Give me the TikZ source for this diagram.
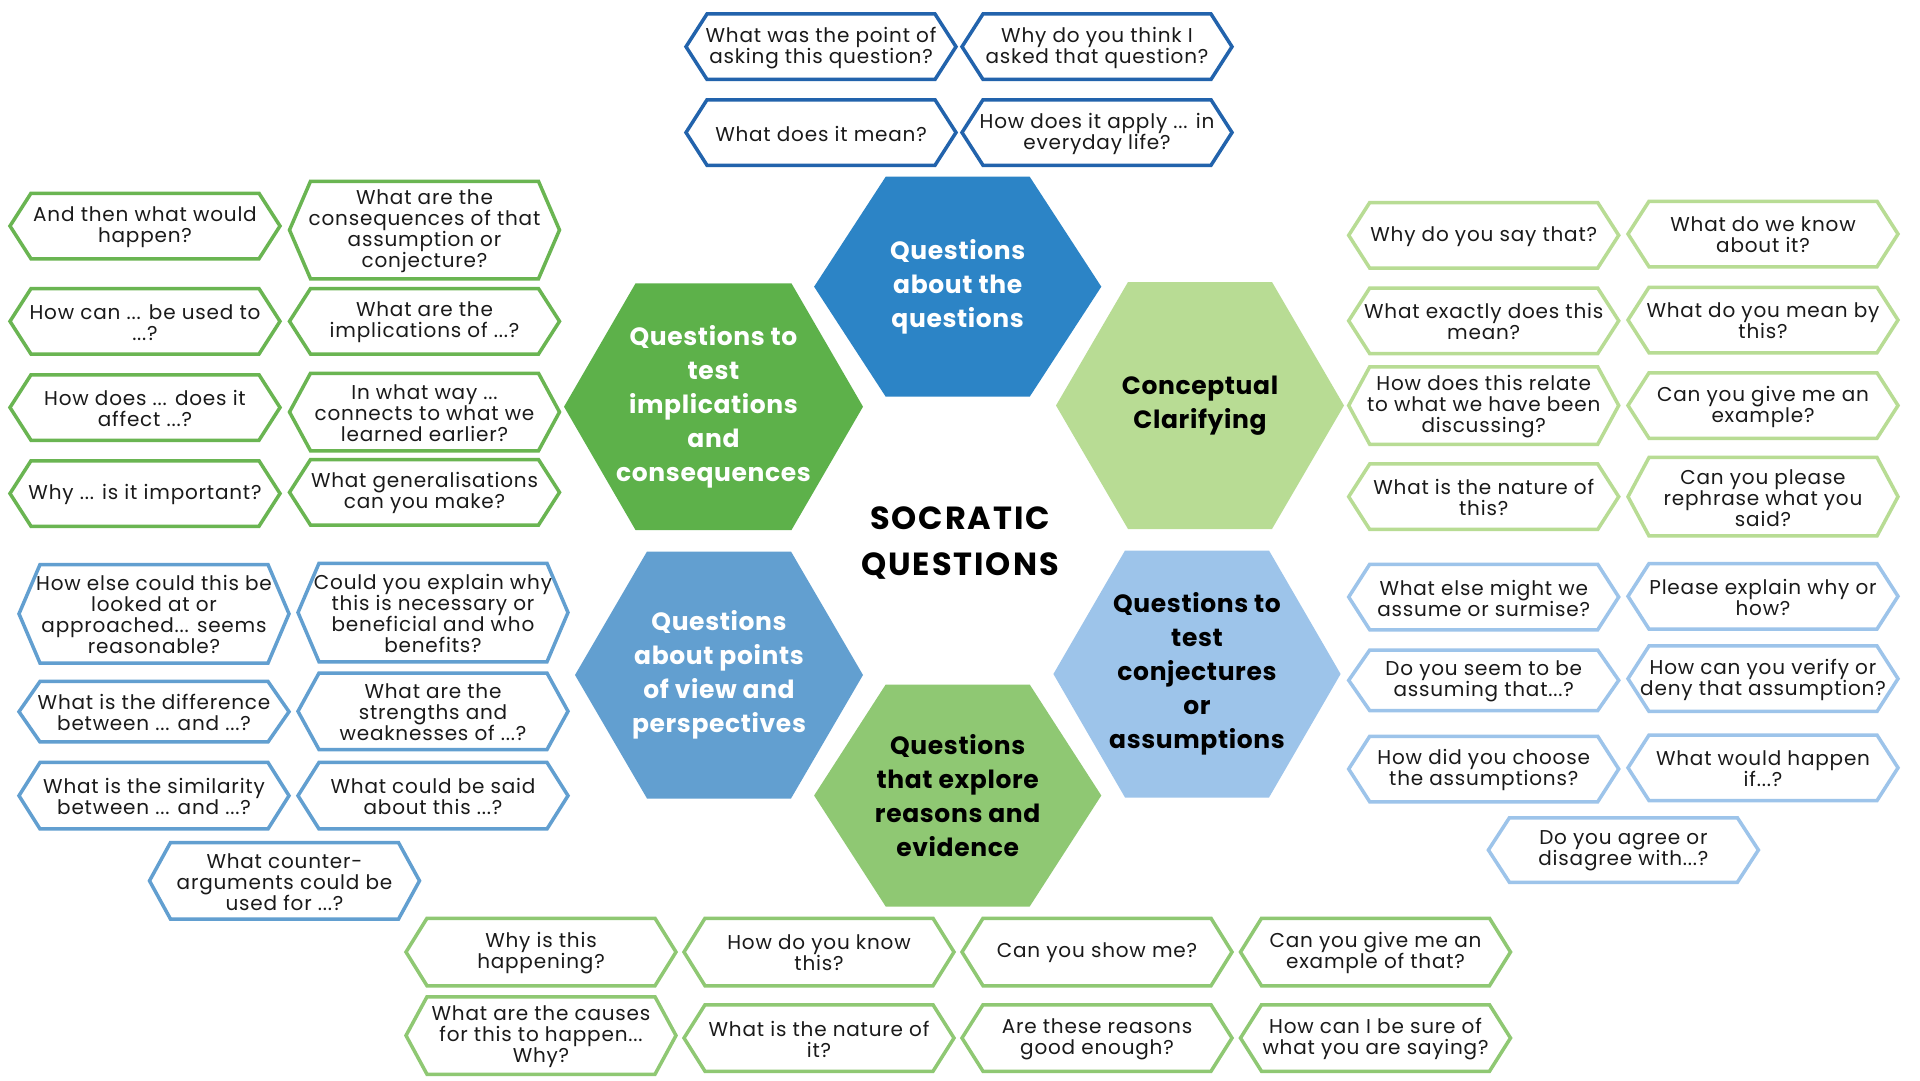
\documentclass[tikz,border=0pt]{standalone}
\usepackage{fontspec}
\setmainfont{Poppins}
\newfontfamily\qfont{Poppins}[LetterSpace=4.0]
\newfontfamily\hfont{Poppins}[LetterSpace=2.5]
\newfontfamily\tfont{Poppins}[LetterSpace=6.0]
\definecolor{cTop}{HTML}{2C84C6}
\definecolor{cTopLine}{HTML}{2263AC}
\definecolor{cImpl}{HTML}{5DB14A}
\definecolor{cImplLine}{HTML}{6AB552}
\definecolor{cConc}{HTML}{B8DC94}
\definecolor{cPov}{HTML}{629FD0}
\definecolor{cConj}{HTML}{9DC4EA}
\definecolor{cReas}{HTML}{8FC873}
\definecolor{cInk}{HTML}{1A1A1A}
\tikzset{
  qline/.style={line width=3.5pt, line join=miter, fill=white},
  qtext/.style={align=center, inner sep=0pt, text=cInk, yshift=-1pt, font=\qfont\fontsize{20}{21}\selectfont},
  htext/.style={align=center, inner sep=0pt, font=\hfont\bfseries\fontsize{25}{34}\selectfont},
  titletext/.style={align=center, inner sep=0pt, text=black, font=\tfont\bfseries\fontsize{32}{46}\selectfont}
}
% name, cx, cy, outer height, line colour, text
\newcommand{\qhex}[6]{%
  \pgfmathsetmacro{\qhh}{#4/2-1.75}%
  \draw[qline, draw=#5] (#2-135,#3) -- (#2-114,#3-\qhh) -- (#2+114,#3-\qhh) -- (#2+135,#3) -- (#2+114,#3+\qhh) -- (#2-114,#3+\qhh) -- cycle;
  \node[qtext] (#1) at (#2,#3) {#6};
}
% name, cx, cy, half width, half top edge, half height, fill, text colour, text
\newcommand{\bighex}[9]{%
  \fill[#7] (#2-#4,#3) -- (#2-#5,#3-#6) -- (#2+#5,#3-#6) -- (#2+#4,#3) -- (#2+#5,#3+#6) -- (#2-#5,#3+#6) -- cycle;
  \node[htext, text=#8] (#1) at (#2,#3) {#9};
}
\begin{document}
\begin{tikzpicture}[x=1pt,y=-1pt]
\useasboundingbox (0,0) rectangle (1920,1080);
\fill[white] (0,0) rectangle (1920,1080);

% central hexagons
\bighex{hTop}{957.7}{286.7}{143.6}{72}{110}{cTop}{white}{Questions\\about the\\questions}
\bighex{hImpl}{713.5}{406.7}{149.5}{78}{123.3}{cImpl}{white}{Questions to\\test\\implications\\and\\consequences}
\bighex{hConc}{1200}{405.5}{144}{72}{123.5}{cConc}{black}{Conceptual\\Clarifying}
\bighex{hPov}{719}{675}{144}{72}{123.5}{cPov}{white}{Questions\\about points\\of view and\\perspectives}
\bighex{hConj}{1197}{674}{143.6}{72}{123.5}{cConj}{black}{Questions to\\test\\conjectures\\or\\assumptions}
\bighex{hReas}{957.7}{795.5}{143.6}{72}{111}{cReas}{black}{Questions\\that explore\\reasons and\\evidence}

\node[titletext] (title) at (960,543) {SOCRATIC\\QUESTIONS};

% top group
\qhex{t1}{821}{46.7}{69}{cTopLine}{What was the point of\\asking this question?}
\qhex{t2}{1097}{46.7}{69}{cTopLine}{Why do you think I\\asked that question?}
\qhex{t3}{821}{132.5}{69}{cTopLine}{What does it mean?}
\qhex{t4}{1097}{132.5}{69}{cTopLine}{How does it apply ... in\\everyday life?}

% left top group
\qhex{l1}{145}{226}{69}{cImplLine}{And then what would\\happen?}
\qhex{l2}{424.5}{230}{101}{cImplLine}{What are the\\consequences of that\\assumption or\\conjecture?}
\qhex{l3}{145}{321.3}{69}{cImplLine}{How can ... be used to\\...?}
\qhex{l4}{424.5}{321.3}{69}{cImplLine}{What are the\\implications of ...?}
\qhex{l5}{145}{407.5}{69}{cImplLine}{How does ... does it\\affect ...?}
\qhex{l6}{424.5}{412}{81}{cImplLine}{In what way ...\\connects to what we\\learned earlier?}
\qhex{l7}{145}{493.5}{69}{cImplLine}{Why ... is it important?}
\qhex{l8}{424.5}{492.3}{69}{cImplLine}{What generalisations\\can you make?}

% right top group
\qhex{r1}{1483.7}{235.3}{69}{cConc}{Why do you say that?}
\qhex{r2}{1763}{234}{69}{cConc}{What do we know\\about it?}
\qhex{r3}{1483.7}{320.8}{69}{cConc}{What exactly does this\\mean?}
\qhex{r4}{1763}{320}{69}{cConc}{What do you mean by\\this?}
\qhex{r5}{1483.7}{405.5}{81}{cConc}{How does this relate\\to what we have been\\discussing?}
\qhex{r6}{1763}{405.5}{69}{cConc}{Can you give me an\\example?}
\qhex{r7}{1483.7}{496.7}{69}{cConc}{What is the nature of\\this?}
\qhex{r8}{1763}{496.7}{82}{cConc}{Can you please\\rephrase what you\\said?}

% left bottom group
\qhex{b1}{154}{613.8}{102}{cPov}{How else could this be\\looked at or\\approached... seems\\reasonable?}
\qhex{b2}{433}{612.5}{102}{cPov}{Could you explain why\\this is necessary or\\beneficial and who\\benefits?}
\qhex{b3}{154}{711.7}{64}{cPov}{What is the difference\\between ... and ...?}
\qhex{b4}{433}{711.3}{80}{cPov}{What are the\\strengths and\\weaknesses of ...?}
\qhex{b5}{154}{795.7}{70}{cPov}{What is the similarity\\between ... and ...?}
\qhex{b6}{433}{795.7}{70}{cPov}{What could be said\\about this ...?}
\qhex{b7}{284.5}{880.8}{80}{cPov}{What counter-\\arguments could be\\used for ...?}

% right bottom group
\qhex{c1}{1483.7}{597}{69}{cConj}{What else might we\\assume or surmise?}
\qhex{c2}{1763}{596.3}{69}{cConj}{Please explain why or\\how?}
\qhex{c3}{1483.7}{680.3}{64}{cConj}{Do you seem to be\\assuming that...?}
\qhex{c4}{1763}{678.7}{69}{cConj}{How can you verify or\\deny that assumption?}
\qhex{c5}{1483.7}{769}{69}{cConj}{How did you choose\\the assumptions?}
\qhex{c6}{1763}{767.8}{69}{cConj}{What would happen\\if...?}
\qhex{c7}{1623.4}{850}{68}{cConj}{Do you agree or\\disagree with...?}

% bottom group
\qhex{d1}{541}{952}{71}{cReas}{Why is this\\happening?}
\qhex{d2}{819}{952}{71}{cReas}{How do you know\\this?}
\qhex{d3}{1097}{952}{71}{cReas}{Can you show me?}
\qhex{d4}{1375.5}{952}{71}{cReas}{Can you give me an\\example of that?}
\qhex{d5}{541}{1035.5}{81}{cReas}{What are the causes\\for this to happen...\\Why?}
\qhex{d6}{819}{1038}{70}{cReas}{What is the nature of\\it?}
\qhex{d7}{1097}{1038}{70}{cReas}{Are these reasons\\good enough?}
\qhex{d8}{1375.5}{1038}{70}{cReas}{How can I be sure of\\what you are saying?}
\end{tikzpicture}
\end{document}
